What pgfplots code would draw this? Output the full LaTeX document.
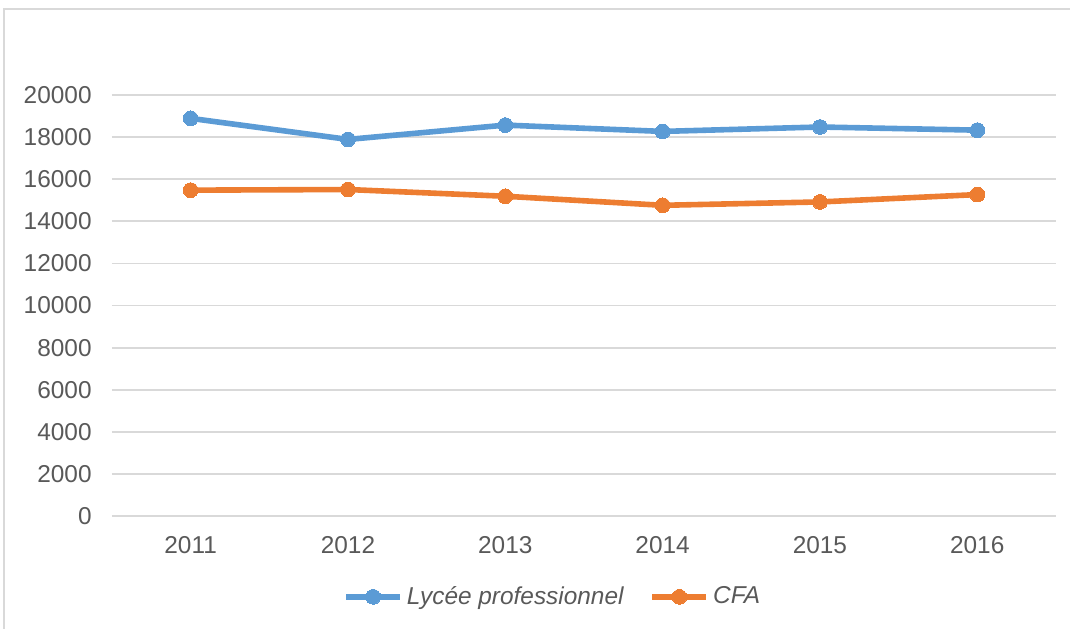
\documentclass[border=0pt]{standalone}
\usepackage{pgfplots}
\pgfplotsset{compat=1.18}
\usepackage{fontspec}
\setmainfont{Liberation Sans}
\definecolor{cblue}{HTML}{5B9BD5}
\definecolor{corange}{HTML}{ED7D31}
\definecolor{cgrid}{HTML}{D9D9D9}
\definecolor{ctext}{HTML}{595959}
\begin{document}
\begin{tikzpicture}[x=0.5pt,y=0.5pt]
\useasboundingbox (0,0) rectangle (1070,628);
\begin{scope}
\clip (0,0) rectangle (1070,628);
\draw[cgrid, line width=1pt] (4,-10) -- (4,619) -- (1080,619);
\end{scope}
\begin{axis}[
  at={(112pt*0.5,112pt*0.5)}, anchor=south west,
  scale only axis, width=472pt, height=210.5pt,
  xmin=2010.5, xmax=2016.5, ymin=0, ymax=20000,
  xtick={2011,...,2016}, ytick={0,2000,...,20000},
  axis line style={draw=none},
  major tick length=0pt,
  ymajorgrids, grid style={cgrid, line width=0.9pt},
  /pgf/number format/assume math mode=true,
  /pgf/number format/1000 sep={},
  xticklabel style={font=\fontsize{12.2}{14}\selectfont, text=ctext, anchor=north, inner sep=0pt, yshift=-10pt},
  yticklabel style={font=\fontsize{12.2}{14}\selectfont, text=ctext, anchor=east, inner sep=0pt, xshift=-10pt},
  scaled y ticks=false,
  clip=false,
  legend columns=2,
  legend style={at={(0.468,-0.192)}, anchor=center, draw=none, fill=none,
    font=\fontsize{12.2}{14}\selectfont\itshape, text=ctext,
    /tikz/every even column/.append style={column sep=11pt}},
  legend image code/.code={
    \draw[#1, mark=none] (0pt,0pt) -- (27pt,0pt);
    \draw[#1, only marks] plot coordinates {(13.5pt,0pt)};
  },
]
\addplot[cblue, line width=2.8pt, mark=*, mark size=3.7pt, mark options={fill=cblue, draw=cblue, line width=0pt}]
  coordinates {(2011,18890) (2012,17890) (2013,18570) (2014,18270) (2015,18480) (2016,18330)};
\addlegendentry{Lycée professionnel}
\addplot[corange, line width=2.8pt, mark=*, mark size=3.7pt, mark options={fill=corange, draw=corange, line width=0pt}]
  coordinates {(2011,15480) (2012,15510) (2013,15190) (2014,14760) (2015,14920) (2016,15270)};
\addlegendentry{CFA}
\end{axis}
\end{tikzpicture}
\end{document}
